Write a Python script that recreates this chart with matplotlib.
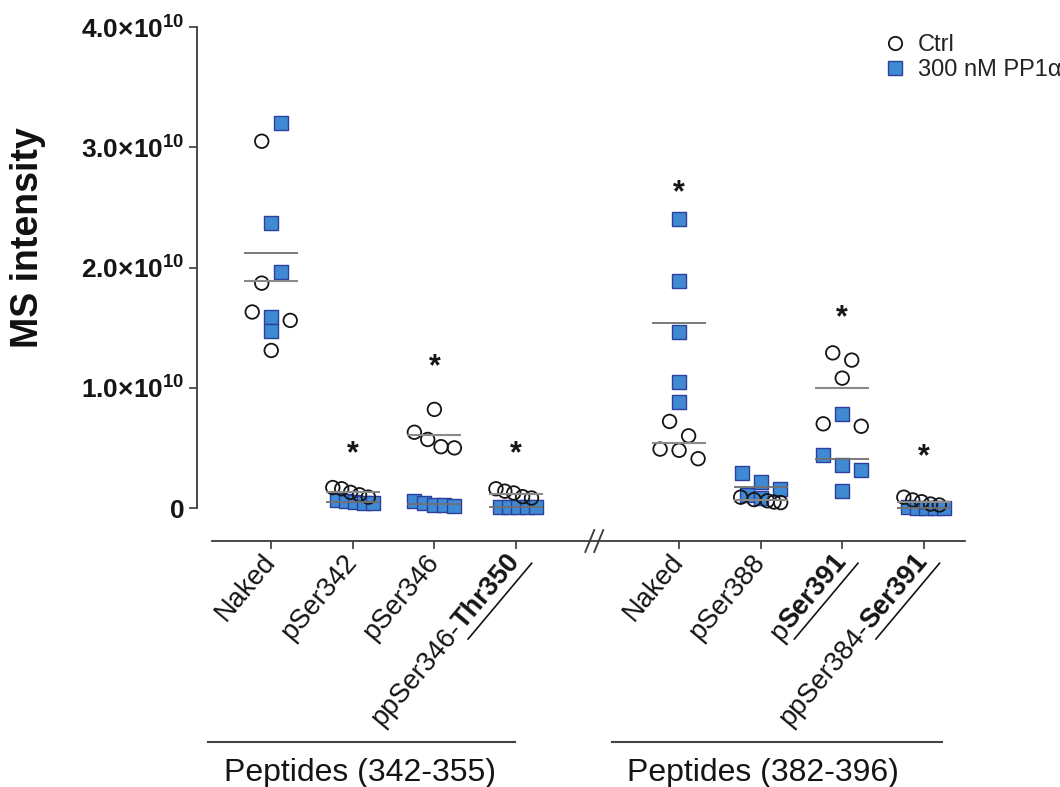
import numpy as np
import matplotlib
matplotlib.use("Agg")
import matplotlib.pyplot as plt
from matplotlib.lines import Line2D
from matplotlib.transforms import IdentityTransform, blended_transform_factory
from matplotlib.font_manager import FontProperties

plt.rc("font", family=["Liberation Sans", "DejaVu Sans"])
plt.rc("mathtext", fontset="custom", rm="Liberation Sans", bf="Liberation Sans:bold",
       it="Liberation Sans:italic")

# data (MS intensity, units of 1e10)
label_plain = ["Naked", "pSer342", "pSer346", "ppSer346-", "Naked", "pSer388", "p", "ppSer384-"]
label_bold = ["", "", "", "Thr350", "", "", "Ser391", "Ser391"]
ctrl = [
    [3.05, 1.87, 1.63, 1.56, 1.31],
    [0.17, 0.16, 0.13, 0.11, 0.09],
    [0.82, 0.63, 0.57, 0.51, 0.50],
    [0.16, 0.14, 0.125, 0.094, 0.083],
    [0.72, 0.60, 0.49, 0.48, 0.41],
    [0.09, 0.07, 0.06, 0.05, 0.045],
    [1.29, 1.23, 1.08, 0.70, 0.68],
    [0.09, 0.067, 0.052, 0.033, 0.025],
]
pp1 = [
    [3.20, 2.37, 1.96, 1.59, 1.47],
    [0.07, 0.06, 0.05, 0.045, 0.04],
    [0.06, 0.044, 0.025, 0.025, 0.017],
    [0.012, 0.010, 0.008, 0.008, 0.006],
    [2.40, 1.89, 1.46, 1.05, 0.88],
    [0.29, 0.22, 0.16, 0.11, 0.08],
    [0.78, 0.44, 0.36, 0.32, 0.14],
    [0.005, 0.004, 0.003, 0.003, 0.002],
]
# asterisk heights (None = no asterisk)
star_y = [None, 0.45, 1.17, 0.45, 2.62, None, 1.58, 0.42]
yticks = [0, 1, 2, 3, 4]
ytick_labels = ["0", r"$\mathbf{1.0{\times}10^{10}}$", r"$\mathbf{2.0{\times}10^{10}}$",
                r"$\mathbf{3.0{\times}10^{10}}$", r"$\mathbf{4.0{\times}10^{10}}$"]
groups = ["Peptides (342-355)", "Peptides (382-396)"]

pos = [0, 1, 2, 3, 5, 6, 7, 8]
scale = 1e10

W, H = 1060, 787
fig = plt.figure(figsize=(W / 100, H / 100), dpi=100)
ax = fig.add_axes([197 / W, 1 - 541 / H, (964.6 - 197) / W, (541 - 27) / H])
ax.set_xlim(-0.91, 8.5)
ax.set_ylim(-0.2744 * scale, 4.0 * scale)
axc = "#3a3a3a"
for s in ["top", "right"]:
    ax.spines[s].set_visible(False)
ax.spines["left"].set_bounds(0, 4 * scale)
ax.spines["bottom"].set_bounds(-0.72, 8.5)
for s in ["left", "bottom"]:
    ax.spines[s].set_color(axc)
    ax.spines[s].set_linewidth(1.3)
ax.set_yticks([v * scale for v in yticks])
ax.set_yticklabels(ytick_labels, fontsize=19, fontweight="bold", color="#151515")
ax.set_xticks(pos)
ax.set_xticklabels([""] * len(pos))
ax.tick_params(axis="both", direction="out", length=6, width=1.2, color=axc, pad=3)
fig.text(28 / W, 1 - 238 / H, "MS intensity", rotation=90, ha="center", va="center",
         fontsize=27, fontweight="bold", color="#111111")


def swarm(x0, vals_c, vals_p):
    pts = [(v, 0) for v in vals_c] + [(v, 1) for v in vals_p]
    pts.sort(key=lambda p: -p[0])
    py = [ax.transData.transform((0, v * scale))[1] for v, _ in pts]
    rows, cur, start = [], [], None
    for (v, k), y in zip(pts, py):
        if start is None or start - y > 19:
            if cur:
                rows.append(cur)
            cur, start = [], y
        cur.append((v, k))
    rows.append(cur)
    pxu = ax.transData.transform((1, 0))[0] - ax.transData.transform((0, 0))[0]
    out = []
    for r in rows:
        c = [p for p in r if p[1] == 0]
        q = [p for p in r if p[1] == 1]
        order = []
        while c or q:
            if c:
                order.append(c.pop(0))
            if q:
                order.append(q.pop(0))
        n = len(order)
        sp = min(19, 40 / (n - 1)) if n > 1 else 0
        for i, (v, k) in enumerate(order):
            out.append((x0 + (i - (n - 1) / 2) * sp / pxu, v, k))
    return out


sq_face, sq_edge = "#3f8ad2", "#2b3f9e"
for i, x0 in enumerate(pos):
    pts = swarm(x0, ctrl[i], pp1[i])
    xs = [p[0] for p in pts if p[2] == 1]
    ys = [p[1] * scale for p in pts if p[2] == 1]
    ax.scatter(xs, ys, marker="s", s=110, facecolor=sq_face, edgecolor=sq_edge,
               linewidth=1.0, zorder=3, clip_on=False)
    xs = [p[0] for p in pts if p[2] == 0]
    ys = [p[1] * scale for p in pts if p[2] == 0]
    ax.scatter(xs, ys, marker="o", s=95, facecolor="none", edgecolor="#151515",
               linewidth=1.3, zorder=4, clip_on=False)
    ax.hlines(np.mean(ctrl[i]) * scale, x0 - 0.33, x0 + 0.33, color="#8a8a8a", lw=1.5, zorder=5)
    ax.hlines(np.mean(pp1[i]) * scale, x0 - 0.33, x0 + 0.33, color="#707070", lw=1.3, zorder=5)
    if star_y[i] is not None:
        ax.text(x0, star_y[i] * scale, "*", ha="center", va="center", fontsize=22,
                fontweight="bold", color="#151515")

# legend
handles = [Line2D([], [], ls="none", marker="o", ms=9.6, mfc="none", mec="#151515", mew=1.3),
           Line2D([], [], ls="none", marker="s", ms=10.5, mfc=sq_face, mec=sq_edge, mew=1.0)]
fig.legend(handles, ["Ctrl", "300 nM PP1α"], loc="upper left",
           bbox_to_anchor=(884 / W, 1 - 34 / H), frameon=False, fontsize=17,
           handlelength=0.9, handletextpad=0.55, labelspacing=0.12, borderpad=0,
           borderaxespad=0, labelcolor="#222222")

# rotated tick labels with bold/underlined parts
renderer = fig.canvas.get_renderer()
fs = 19.5
rot = 50
th = np.deg2rad(rot)
u = np.array([np.cos(th), np.sin(th)])
nrm = np.array([np.sin(th), -np.cos(th)])
ybase = ax.transAxes.transform((0, 0))[1]
for i, x0 in enumerate(pos):
    xd = ax.transData.transform((x0, 0))[0]
    anchor = np.array([xd + 5, ybase - 21])
    p = anchor.copy()
    if label_bold[i]:
        fp = FontProperties(family="Liberation Sans", size=fs, weight="bold")
        w = renderer.get_text_width_height_descent(label_bold[i], fp, ismath=False)[0]
        fig.text(p[0], p[1], label_bold[i], transform=IdentityTransform(), rotation=rot,
                 rotation_mode="anchor", ha="right", va="baseline", fontproperties=fp,
                 color="#151515")
        a = p - (w + 4) * u + 9 * nrm
        b = p + 6 * u + 9 * nrm
        fig.add_artist(Line2D([a[0], b[0]], [a[1], b[1]], transform=IdentityTransform(),
                              color="#151515", lw=1.2))
        p = p - w * u
    fig.text(p[0], p[1], label_plain[i], transform=IdentityTransform(), rotation=rot,
             rotation_mode="anchor", ha="right", va="baseline", fontsize=fs, color="#151515")

# axis break marks
xb = ax.transData.transform((3.96, 0))[0]
for dx in (-4.5, 4.5):
    fig.add_artist(Line2D([xb + dx - 4.5, xb + dx + 4.5], [ybase - 11, ybase + 11],
                          transform=IdentityTransform(), color=axc, lw=1.3))

# group brackets
tr = blended_transform_factory(ax.transData, fig.transFigure)
for (x1, x2, xc), g in zip([(-0.77, 2.99, 1.09), (4.18, 8.22, 6.03)], groups):
    fig.add_artist(Line2D([x1, x2], [1 - 742 / H] * 2, transform=tr, color="#444444", lw=1.5))
    fig.text(xc, 1 - 773 / H, g, transform=tr, ha="center", va="center", fontsize=23,
             color="#151515")

fig.savefig("out.png", dpi=100)
